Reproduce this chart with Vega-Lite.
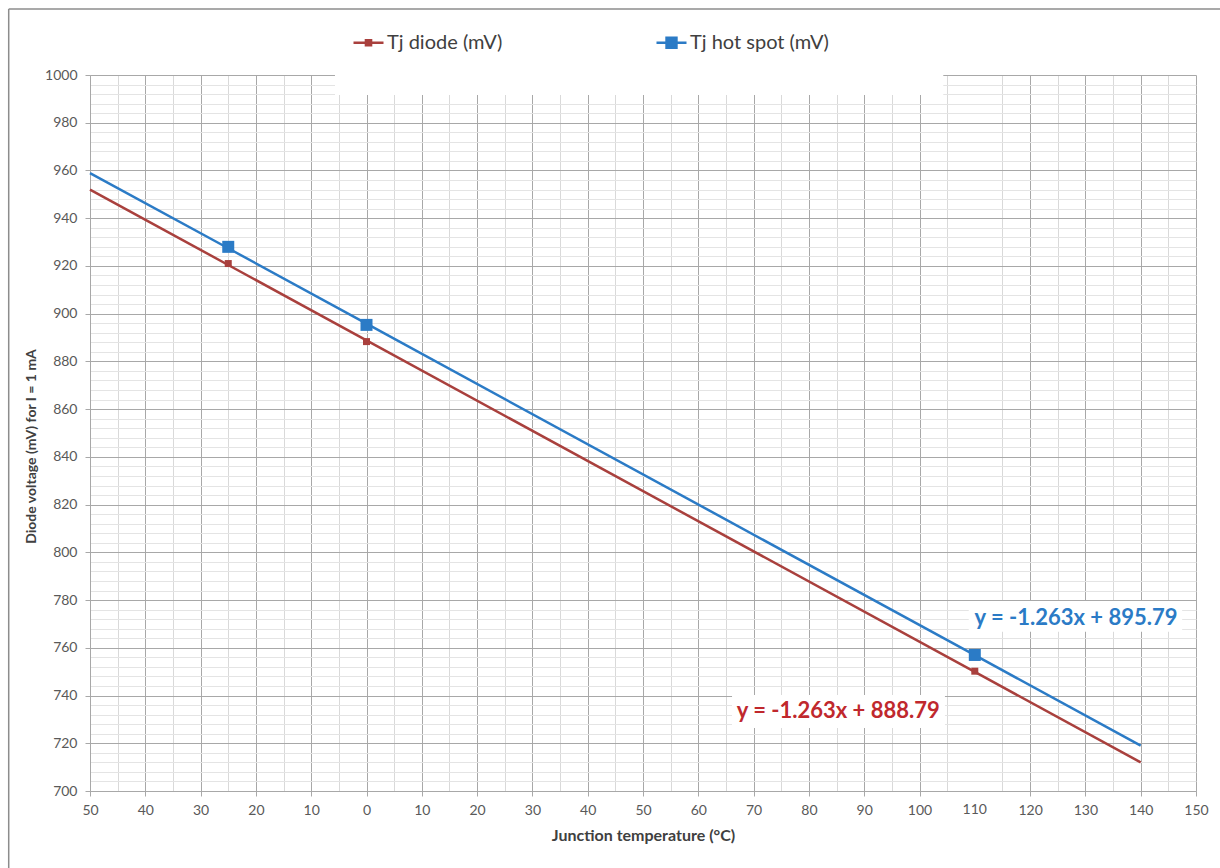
{
  "$schema": "https://vega.github.io/schema/vega-lite/v6.json",
  "width": 1106,
  "height": 716,
  "autosize": "none",
  "padding": {"left": 90, "top": 75, "right": 24, "bottom": 77},
  "background": "white",
  "config": {"view": {"stroke": null}, "font": "Lato"},
  "datasets": {
    "series": [
      {"series": "Tj diode (mV)", "t": -50, "mv": 952.0, "kind": "line"},
      {"series": "Tj diode (mV)", "t": -25, "mv": 920.4, "kind": "line"},
      {"series": "Tj diode (mV)", "t": 0, "mv": 888.8, "kind": "line"},
      {"series": "Tj diode (mV)", "t": 110, "mv": 749.9, "kind": "line"},
      {"series": "Tj diode (mV)", "t": 140, "mv": 712.0, "kind": "line"},
      {"series": "Tj hot spot (mV)", "t": -50, "mv": 958.9, "kind": "line"},
      {"series": "Tj hot spot (mV)", "t": -25, "mv": 927.4, "kind": "line"},
      {"series": "Tj hot spot (mV)", "t": 0, "mv": 895.8, "kind": "line"},
      {"series": "Tj hot spot (mV)", "t": 110, "mv": 756.9, "kind": "line"},
      {"series": "Tj hot spot (mV)", "t": 140, "mv": 719.0, "kind": "line"},
      {"series": "Tj diode (mV)", "t": -25, "mv": 921, "kind": "marker"},
      {"series": "Tj diode (mV)", "t": 0, "mv": 888.3, "kind": "marker"},
      {"series": "Tj diode (mV)", "t": 110, "mv": 750.2, "kind": "marker"},
      {"series": "Tj hot spot (mV)", "t": -25, "mv": 928, "kind": "marker"},
      {"series": "Tj hot spot (mV)", "t": 0, "mv": 895.3, "kind": "marker"},
      {"series": "Tj hot spot (mV)", "t": 110, "mv": 757, "kind": "marker"}
    ]
  },
  "layer": [
    {
      "data": {"name": "series"},
      "transform": [{"filter": "datum.kind === 'line'"}],
      "mark": {"type": "line", "strokeWidth": 2.5},
      "encoding": {
        "x": {
          "field": "t", "type": "quantitative",
          "scale": {"domain": [-50, 150], "nice": false, "zero": false},
          "axis": {
            "orient": "bottom",
            "values": [-50,-45,-40,-35,-30,-25,-20,-15,-10,-5,0,5,10,15,20,25,30,35,40,45,50,55,60,65,70,75,80,85,90,95,100,105,115,120,125,130,135,140,145,150],
            "tickCount": 500,
            "title": "Junction temperature (°C)",
            "grid": true,
            "gridColor": {"condition": {"test": "datum.value % 10 == 0", "value": "#a8a8a8"}, "value": "#d9d9d9"},
            "gridWidth": 1,
            "tickOpacity": {"condition": {"test": "datum.value % 10 == 0", "value": 1}, "value": 0},
            "tickColor": "#a8a8a8",
            "tickSize": 5,
            "domainColor": "#a8a8a8",
            "labelExpr": "datum.value % 10 == 0 ? format(abs(datum.value), 'd') : ''",
            "labelFont": "Lato",
            "labelFontSize": 14,
            "labelColor": "#595959",
            "labelPadding": 7,
            "labelOverlap": false,
            "labelFlush": false,
            "titleFont": "Lato",
            "titleFontSize": 16,
            "titleFontWeight": "bold",
            "titleColor": "#404040",
            "titleX": 553,
            "titleY": 44,
            "titleBaseline": "middle"
          }
        },
        "y": {
          "field": "mv", "type": "quantitative",
          "scale": {"domain": [700, 1000], "nice": false, "zero": false},
          "axis": {
            "values": [700,704,708,712,716,720,724,728,732,736,740,744,748,752,756,760,764,768,772,776,780,784,788,792,796,800,804,808,812,816,820,824,828,832,836,840,844,848,852,856,860,864,868,872,876,880,884,888,892,896,900,904,908,912,916,920,924,928,932,936,940,944,948,952,956,960,964,968,972,976,980,984,988,992,996,1000],
            "tickCount": 500,
            "title": "Diode voltage (mV) for I = 1 mA",
            "grid": true,
            "gridColor": {"condition": {"test": "datum.value % 20 == 0", "value": "#a8a8a8"}, "value": "#e4e4e4"},
            "gridWidth": 1,
            "tickOpacity": {"condition": {"test": "datum.value % 20 == 0", "value": 1}, "value": 0},
            "tickColor": "#a8a8a8",
            "tickSize": 5,
            "domainColor": "#a8a8a8",
            "labelExpr": "datum.value % 20 == 0 ? format(datum.value, 'd') : ''",
            "labelFont": "Lato",
            "labelFontSize": 14,
            "labelColor": "#595959",
            "labelPadding": 8,
            "labelOverlap": false,
            "labelFlush": false,
            "titleFont": "Lato",
            "titleFontSize": 14,
            "titleFontWeight": "bold",
            "titleColor": "#404040",
            "titleX": -59,
            "titleY": 371,
            "titleBaseline": "middle",
            "titleAngle": -90
          }
        },
        "color": {
          "field": "series", "type": "nominal",
          "scale": {"domain": ["Tj diode (mV)", "Tj hot spot (mV)"], "range": ["#A9403D", "#2B7BC6"]},
          "legend": {
            "orient": "none",
            "legendX": 262,
            "legendY": -49,
            "direction": "horizontal",
            "columns": 2,
            "columnPadding": 148,
            "title": null,
            "labelFont": "Lato",
            "labelFontSize": 20,
            "labelColor": "#404040",
            "labelOffset": 2,
            "symbolSize": 900,
            "symbolStrokeWidth": 2.5,
            "symbolOpacity": 1,
            "symbolType": "M-1,0H1M-0.2,-0.2H0.2V0.2H-0.2Z",
            "encode": {
              "symbols": {
                "update": {
                  "size": {"value": 900},
                  "strokeWidth": {"value": 2.5},
                  "opacity": {"value": 1},
                  "stroke": {"signal": "scale('color', datum.value)"},
                  "fill": {"signal": "scale('color', datum.value)"},
                  "shape": {"signal": "datum.value === 'Tj hot spot (mV)' ? 'M-1,0H1M-0.33,-0.33H0.33V0.33H-0.33Z' : 'M-1,0H1M-0.17,-0.17H0.17V0.17H-0.17Z'"}
                }
              }
            }
          }
        }
      }
    },
    {
      "data": {"name": "series"},
      "transform": [{"filter": "datum.kind === 'marker'"}],
      "mark": {"type": "point", "shape": "square", "filled": true, "opacity": 1},
      "encoding": {
        "x": {"field": "t", "type": "quantitative"},
        "y": {"field": "mv", "type": "quantitative"},
        "size": {"condition": {"test": "datum.series === 'Tj hot spot (mV)'", "value": 144}, "value": 49},
        "color": {"field": "series", "type": "nominal", "legend": null}
      }
    },
    {
      "data": {"values": [{"lbl": "110"}]},
      "mark": {"type": "text", "font": "Lato", "fontSize": 14, "color": "#595959", "align": "center", "baseline": "top", "dy": 12},
      "encoding": {
        "x": {"datum": 110, "type": "quantitative"},
        "y": {"datum": 700, "type": "quantitative"},
        "text": {"field": "lbl"}
      }
    },
    {
      "data": {"values": [{}]},
      "mark": {"type": "rect", "fill": "white"},
      "encoding": {
        "x": {"datum": -5.7, "type": "quantitative"},
        "x2": {"datum": 104.3},
        "y": {"datum": 991.6, "type": "quantitative"},
        "y2": {"datum": 1000.5}
      }
    },
    {
      "data": {"values": [{}]},
      "mark": {"type": "rule", "stroke": "#8c8c8c", "strokeWidth": 1.5},
      "encoding": {
        "x": {"datum": -64.7, "type": "quantitative"},
        "x2": {"datum": 170},
        "y": {"datum": 1027.7, "type": "quantitative"}
      }
    },
    {
      "data": {"values": [{}]},
      "mark": {"type": "rule", "stroke": "#8c8c8c", "strokeWidth": 1.5},
      "encoding": {
        "x": {"datum": -64.7, "type": "quantitative"},
        "y": {"datum": 1027.7, "type": "quantitative"},
        "y2": {"datum": 640}
      }
    },
    {
      "data": {"values": [{}]},
      "mark": {"type": "rect", "fill": "white"},
      "encoding": {
        "x": {"datum": 108.9, "type": "quantitative"},
        "x2": {"datum": 147.5},
        "y": {"datum": 779.6, "type": "quantitative"},
        "y2": {"datum": 766.7}
      }
    },
    {
      "data": {"values": [{}]},
      "mark": {"type": "rect", "fill": "white"},
      "encoding": {
        "x": {"datum": 66.1, "type": "quantitative"},
        "x2": {"datum": 104.6},
        "y": {"datum": 740.2, "type": "quantitative"},
        "y2": {"datum": 726.4}
      }
    },
    {
      "data": {"values": [{"eq": "y = -1.263x + 895.79"}]},
      "mark": {"type": "text", "font": "Lato", "fontSize": 22, "fontWeight": "bold", "color": "#2B7BC6", "align": "center", "baseline": "middle"},
      "encoding": {
        "x": {"datum": 128.3, "type": "quantitative"},
        "y": {"datum": 772.5, "type": "quantitative"},
        "text": {"field": "eq"}
      }
    },
    {
      "data": {"values": [{"eq": "y = -1.263x + 888.79"}]},
      "mark": {"type": "text", "font": "Lato", "fontSize": 22, "fontWeight": "bold", "color": "#C0282D", "align": "center", "baseline": "middle"},
      "encoding": {
        "x": {"datum": 85.3, "type": "quantitative"},
        "y": {"datum": 733.5, "type": "quantitative"},
        "text": {"field": "eq"}
      }
    }
  ]
}
